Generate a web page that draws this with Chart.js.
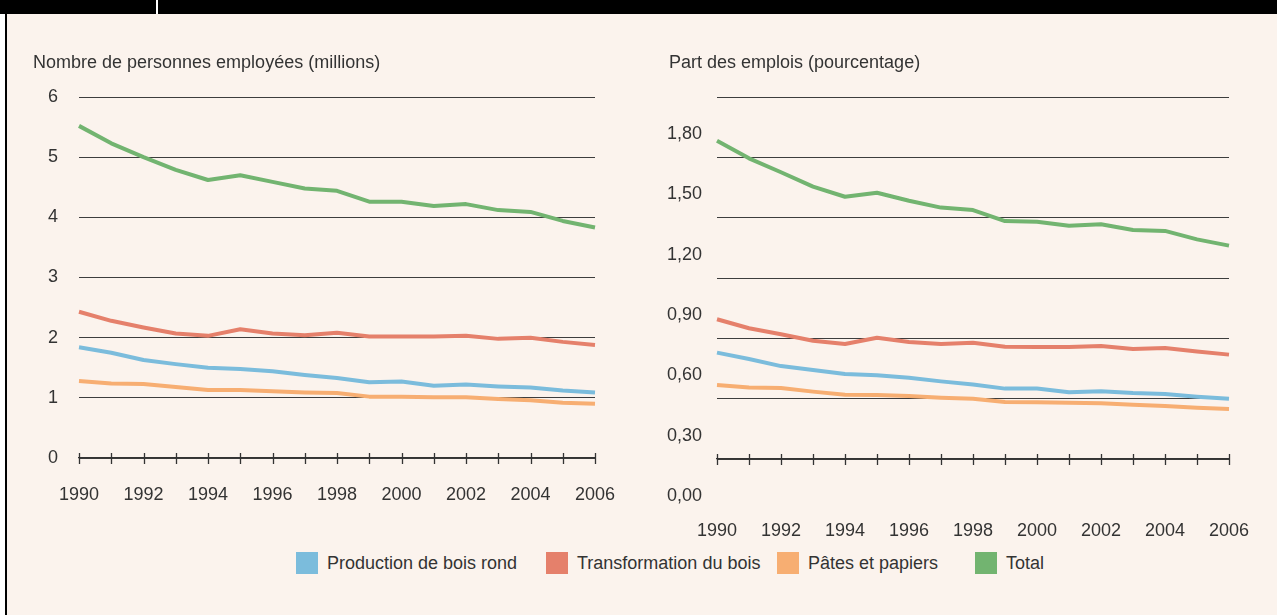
<!DOCTYPE html>
<html><head><meta charset="utf-8">
<script src="https://cdn.jsdelivr.net/npm/chart.js@4"></script>
<style>
html,body{margin:0;padding:0;width:1277px;height:615px;overflow:hidden;background:#fbf3ed;font-family:"Liberation Sans",Arial,sans-serif;color:#333;}
#topbar{position:absolute;left:0;top:0;width:1277px;height:14px;background:#000;}
#topbar .sep{position:absolute;left:156px;top:0;width:2px;height:14px;background:#fff;}
#lstrip{position:absolute;left:0;top:14px;width:5px;height:601px;background:#fff;}
#lborder{position:absolute;left:5px;top:14px;width:2px;height:601px;background:#000;}
.ttl{position:absolute;top:51px;font-size:18px;line-height:22px;white-space:nowrap;}
#c1wrap{position:absolute;left:0;top:0;width:640px;height:540px;}
#c2wrap{position:absolute;left:640px;top:0;width:637px;height:545px;}
.leg{position:absolute;top:552px;height:22px;display:flex;align-items:center;font-size:18px;white-space:nowrap;color:#333;}
.leg i{display:inline-block;width:22px;height:22px;margin-right:9px;}
</style></head>
<body>
<div id="topbar"><div class="sep"></div></div>
<div id="lstrip"></div><div id="lborder"></div>
<div id="c1wrap"><canvas id="c1" width="640" height="540"></canvas></div>
<div id="c2wrap"><canvas id="c2" width="637" height="545"></canvas></div>
<div class="ttl" style="left:33px">Nombre de personnes employées (millions)</div>
<div class="ttl" style="left:669px">Part des emplois (pourcentage)</div>
<div id="legend"></div>
<script>
// ---- data ----
const years = ['1990','1991','1992','1993','1994','1995','1996','1997','1998','1999','2000','2001','2002','2003','2004','2005','2006'];
const seriesNames = ['Production de bois rond','Transformation du bois','Pâtes et papiers','Total'];
const seriesColors = ['#7bbcdc','#e5806b','#f7ae72','#72b470'];

// millions of persons employed
const prodBoisRond = [1.84,1.75,1.63,1.56,1.50,1.48,1.44,1.38,1.33,1.26,1.27,1.20,1.22,1.19,1.17,1.12,1.09];
const transfBois   = [2.43,2.28,2.17,2.07,2.03,2.14,2.07,2.04,2.08,2.02,2.02,2.02,2.03,1.98,2.00,1.93,1.88];
const patesPapiers = [1.28,1.24,1.23,1.18,1.13,1.13,1.11,1.09,1.08,1.02,1.02,1.01,1.01,0.98,0.96,0.92,0.90];
const totalEmp     = [5.52,5.23,5.00,4.79,4.62,4.70,4.59,4.48,4.44,4.26,4.26,4.19,4.22,4.12,4.09,3.94,3.83];

// share of employment (percent)
const prodPct   = [0.529,0.497,0.462,0.443,0.423,0.416,0.404,0.386,0.370,0.350,0.350,0.332,0.337,0.328,0.323,0.310,0.300];
const transfPct = [0.695,0.650,0.620,0.588,0.572,0.603,0.582,0.572,0.578,0.558,0.557,0.557,0.562,0.547,0.552,0.534,0.519];
const patesPct  = [0.368,0.355,0.353,0.335,0.320,0.318,0.313,0.305,0.300,0.283,0.282,0.280,0.277,0.270,0.264,0.255,0.249];
const totalPct  = [1.583,1.495,1.426,1.354,1.304,1.324,1.284,1.250,1.238,1.183,1.180,1.160,1.167,1.139,1.134,1.092,1.061];

const leftTicks  = {min:0, max:6, step:1};
const rightTicks = {min:0, max:1.8, step:0.3};

// ---- helpers ----
const FONT = {family:'"Liberation Sans", Arial, sans-serif', size:18};
const TXT = '#333333';

const crossTicks = {
  id:'crossTicks',
  afterDraw(chart){
    const xs = chart.scales.x, ctx = chart.ctx, y = Math.round(xs.top)+0.5;
    ctx.save();
    ctx.strokeStyle = '#333'; ctx.lineWidth = 1.3;
    ctx.beginPath();
    for (let i=0;i<xs.ticks.length;i++){
      const px = Math.round(xs.getPixelForTick(i))+0.5;
      ctx.moveTo(px, y-5.5); ctx.lineTo(px, y+5.5);
    }
    ctx.stroke(); ctx.restore();
  }
};

function makeDatasets(arrs){
  return arrs.map((d,i)=>({label:seriesNames[i], data:d, borderColor:seriesColors[i], backgroundColor:seriesColors[i],
    borderWidth:4, pointRadius:0, tension:0, fill:false, borderJoinStyle:'round', borderCapStyle:'butt'}));
}

function makeChart(id, datasets, t, opts){
  return new Chart(document.getElementById(id), {
    type:'line',
    data:{labels:years, datasets:datasets},
    plugins:[crossTicks],
    options:{
      responsive:false, animation:false, devicePixelRatio:1,
      layout:{padding:{top:97, right:opts.padRight, left:0, bottom:0}},
      plugins:{legend:{display:false}, tooltip:{enabled:false}},
      scales:{
        x:{
          type:'category', offset:false,
          grid:{display:true, drawOnChartArea:false, drawTicks:true, tickLength:opts.xTick,
                color:'rgba(0,0,0,0)', tickColor:'rgba(0,0,0,0)'},
          border:{display:true, color:'#333', width:1.3},
          ticks:{autoSkip:false, maxRotation:0, minRotation:0, padding:6, color:TXT, font:FONT,
            callback:function(v,i){ return i%2===0 ? this.getLabelForValue(v) : ''; }},
          afterFit(s){ s.height = opts.xHeight; }
        },
        y:{
          min:t.min, max:t.max,
          grid:{color:'#3d3d3d', lineWidth:1, drawTicks:false, tickLength:0},
          border:{display:false},
          ticks:{stepSize:t.step, padding:opts.yPad, color:TXT, font:FONT, labelOffset:opts.labelOffset||0,
            callback:opts.fmt},
          afterFit(s){ s.width = opts.yWidth; }
        }
      }
    }
  });
}

makeChart('c1', makeDatasets([prodBoisRond, transfBois, patesPapiers, totalEmp]), leftTicks,
  {padRight:45, xTick:20, xHeight:82, yPad:21, yWidth:79, fmt:(v)=>String(v)});
makeChart('c2', makeDatasets([prodPct, transfPct, patesPct, totalPct]), rightTicks,
  {padRight:48, xTick:55, xHeight:86, yPad:15, yWidth:77, labelOffset:37, fmt:(v)=>v.toFixed(2).replace('.',',')});

// ---- legend ----
const legendX = [296, 546, 777, 975];
const legEl = document.getElementById('legend');
seriesNames.forEach((n,i)=>{
  const d = document.createElement('div');
  d.className='leg'; d.style.left = legendX[i]+'px';
  d.innerHTML = '<i style="background:'+seriesColors[i]+'"></i><span></span>';
  d.querySelector('span').textContent = n;
  legEl.appendChild(d);
});
</script>
</body></html>
